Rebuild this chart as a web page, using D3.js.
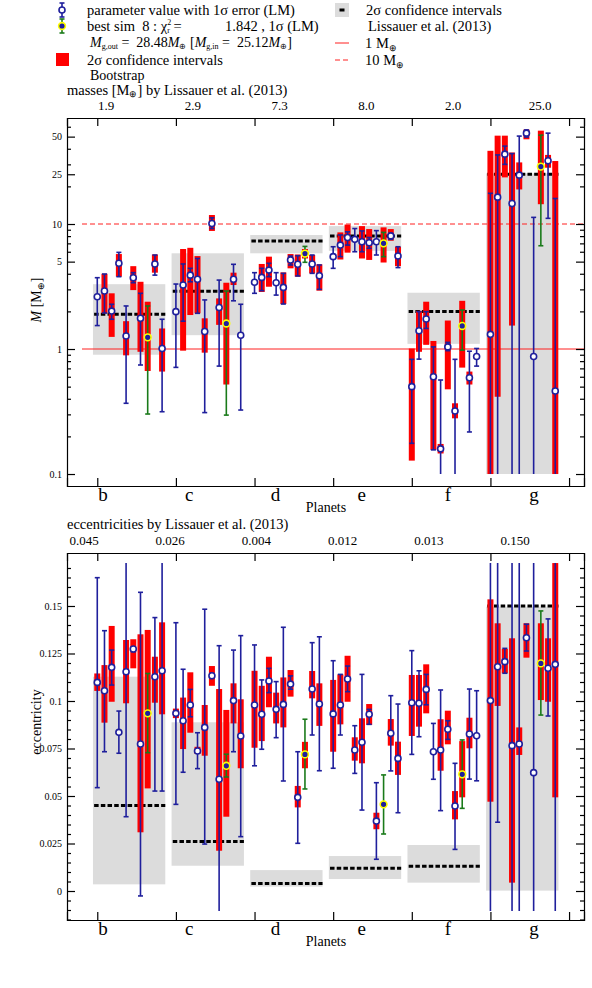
<!DOCTYPE html>
<html><head><meta charset="utf-8">
<script src="https://cdn.jsdelivr.net/npm/d3@7"></script>
<style>
body{margin:0;background:#fff}
text{font-family:"Liberation Serif",serif;fill:#000;white-space:pre}
</style></head><body>
<svg width="592" height="988"></svg>
<script>
// ---------------- data ----------------
var planets = ["b","c","d","e","f","g"];
var bestRun = 7;   // column of the best simulation

// Lissauer et al. (2013)
var lissMass = [1.9, 2.9, 7.3, 8.0, 2.0, 25.0];
var lissMassBox = [[0.9,3.3],[1.29,5.83],[5.83,8.17],[6.1,9.62],[1.1,2.82],[0.1,25.4]];
var lissEcc = [0.045, 0.026, 0.004, 0.012, 0.013, 0.150];
var lissEccBox = [[0.0035,0.1128],[0.0133,0.0888],[0.0023,0.011],[0.0063,0.0184],[0.0044,0.0242],[0.0002,0.1496]];
var massLabels = ["1.9","2.9","7.3","8.0","2.0","25.0"];
var eccLabels = ["0.045","0.026","0.004","0.012","0.013","0.150"];

// LM fits: [value, low, high] per run (10 runs per planet)
var massLM = [
  [[2.62,1.54,3.72],[2.91,1.94,3.98],[2.01,1.73,2.28],[4.85,3.79,5.93],[1.27,0.368,2.21],[3.72,3.39,4.08],[1.76,0.745,2.79],[1.24,0.302,2.21],[4.79,3.9,5.65],[1.01,0.315,1.73]],
  [[1.99,0.713,3.31],[3.25,1.67,4.79],[3.9,3.45,4.42],[3.61,1.93,5.3],[1.38,0.31,2.47],[10.1,9.2,11.2],[2.15,0.73,3.56],[1.6,0.296,2.91],[3.61,2.43,4.76],[1.29,0.325,2.28]],
  [[3.42,2.79,4.08],[3.74,2.93,4.42],[4.28,3.79,4.85],[3.39,2.7,4.08],[3.11,2.29,4.03],[5.16,4.7,5.54],[4.76,3.84,5.58],[5.8,4.94,6.62],[4.79,4.03,5.65],[3.86,3.0,4.7]],
  [[5.48,4.42,6.58],[6.78,5.48,8.17],[7.8,6.78,8.66],[7.54,6.0,9.2],[7.21,6.0,8.8],[7.09,6.39,7.8],[7.21,5.65,8.85],[7.0,5.48,8.57],[8.03,7.54,8.4],[5.54,4.48,6.58]],
  [[0.5,0.176,0.827],[1.4,0.83,1.99],[1.74,1.46,1.99],[0.6,0.156,1.04],[0.159,0.098,0.565],[1.04,0.97,1.13],[0.319,0.098,0.827],[1.53,0.98,2.05],[0.589,0.217,0.96],[0.87,0.73,1.01]],
  [[1.31,0.05,17.6],[16.4,0.05,35.7],[36.2,30,42],[14.6,0.05,36.6],[24.6,0.05,50.5],[53.3,49.6,56.5],[0.87,0.05,11.3],[28.8,6.7,51.4],[32.1,11.1,53.3],[0.461,0.05,16]]
];
// bootstrap 2 sigma: [low, high]
var massBoot = [
  [null,[1.93,4.0],[1.25,2.79],[3.79,5.75],[0.89,1.67],[2.96,4.6],[0.95,3.45],[0.667,2.39],[4.08,5.7],[0.66,1.46]],
  [null,[0.97,6.31],[1.87,6.45],[1.93,5.54],[0.935,1.76],[8.8,11.8],[1.56,2.54],[0.52,3.39],[3.25,4.08],null],
  [null,[2.86,4.79],[3.15,5.48],null,[2.29,4.1],[4.42,5.75],[3.79,5.7],[5.3,6.31],[4.03,5.65],[2.93,4.76]],
  [null,[5.2,8.57],[5.9,9.9],null,[5.3,9.62],[5.16,9.11],null,[4.92,9.4],[7.35,9.11],[4.6,6.58]],
  [[0.128,1.01],[0.95,2.02],[1.08,2.39],[0.156,1.16],[0.146,0.174],[0.476,1.69],[0.279,0.368],[0.71,2.43],[0.52,0.66],null],
  [[0.05,38.5],[0.415,50.9],[23.6,50.9],[1.54,37.3],[18.9,31.1],[47.6,57],null,[14.4,55.8],[28.2,35.7],[0.05,31.9]]
];
var eccLM = [
  [[0.1098,0.0544,0.1649],[0.1054,0.0733,0.137],[0.1177,0.1084,0.1268],[0.0835,0.0725,0.0947],[0.1154,0.0391,0.2],[0.1274,0.1259,0.1285],[0.0774,-0.0026,0.1572],[0.0935,0.0728,0.1145],[0.1128,0.0526,0.1439],[0.1159,0.0526,0.2]],
  [[0.0935,0.0456,0.1412],[0.0896,0.0625,0.1167],[0.0979,0.0917,0.1061],[0.0737,0.0644,0.0833],[0.0861,0.0247,0.1483],[0.1133,0.1119,0.1145],[0.0588,-0.03,0.1291],[0.0659,0.06,0.072],[0.1002,0.0733,0.1268],[0.0816,0.0286,0.1344]],
  [[0.0979,0.0659,0.1295],[0.093,0.0746,0.1111],[0.1105,0.1044,0.1172],[0.0956,0.0807,0.1102],[0.0982,0.0579,0.1388],[0.1089,0.1062,0.1132],[0.0493,0.0251,0.0733],[0.0719,0.0537,0.0904],[0.1063,0.0821,0.1307],[0.0984,0.0633,0.1338]],
  [[0.0932,0.0646,0.1212],[0.0979,0.0821,0.114],[0.1116,0.1049,0.1184],[0.0742,0.0619,0.087],[0.0783,0.0426,0.114],[0.093,0.0877,0.0956],[0.0368,0.0167,0.057],[0.0456,0.03,0.0611],[0.083,0.0632,0.1028],[0.0698,0.0412,0.0984]],
  [[0.0991,0.0719,0.1265],[0.0988,0.0812,0.1159],[0.1061,0.098,0.114],[0.0733,0.0588,0.0882],[0.0742,0.0423,0.1058],[0.0851,0.0798,0.0896],[0.0447,0.0219,0.0672],[0.0614,0.0435,0.0795],[0.0826,0.0589,0.1063],[0.0817,0.058,0.1054]],
  [[0.1002,-0.03,0.2],[0.118,0.0362,0.2],[0.1207,0.1146,0.1277],[0.0765,-0.03,0.2],[0.0774,-0.03,0.2],[0.1333,0.1263,0.1404],[0.0623,-0.03,0.2],[0.1198,0.0926,0.1474],[0.1172,0.0921,0.1432],[0.1193,-0.03,0.2]]
];
var eccBoot = [
  [[0.1053,0.1145],[0.0886,0.1189],[0.0996,0.1395],null,[0.0988,0.1321],[0.1172,0.1325],[0.0309,0.1351],[0.054,0.1374],[0.0991,0.1233],[0.093,0.1414]],
  [[0.091,0.096],[0.0747,0.1018],[0.0833,0.1151],[0.0721,0.0759],[0.0712,0.0979],[0.108,0.1184],[0.0212,0.1063],[0.0391,0.0953],[0.0882,0.1093],[0.0646,0.1009]],
  [[0.0754,0.1159],[0.0789,0.108],[0.0967,0.1233],[0.0882,0.1044],[0.0861,0.1124],[0.1023,0.1163],[0.044,0.0553],[0.0646,0.0785],[0.1014,0.1158],[0.0869,0.1093]],
  [[0.0733,0.1111],[0.0877,0.114],[0.0996,0.1238],[0.0686,0.0809],[0.0672,0.0909],[0.0874,0.0984],[0.0325,0.0412],null,[0.0765,0.0905],[0.0611,0.0786]],
  [[0.0816,0.1137],[0.0865,0.1137],[0.0935,0.1193],null,[0.0633,0.0904],[0.0772,0.0949],[0.0377,0.0526],[0.0493,0.0789],[0.0751,0.0912],null],
  [[0.047,0.1535],[0.0974,0.1409],[0.1146,0.1274],[0.0044,0.133],[0.0716,0.0861],[0.1228,0.1409],null,[0.1005,0.1409],[0.0996,0.133],[0.0493,0.2]]
];

// ---------------- setup ----------------
var svg = d3.select("svg");
var navy = "#1f1f9c", green = "#1a7a1a";
var x = d3.scaleLinear().domain([-0.385, 6.19]).range([67, 584]);
var colStep = 0.0916;
var labX = d3.scaleLinear().domain([0,5]).range([103, 534]);

function panel(o){
  var y = o.y, g = svg.append("g");
  var clip = v => Math.max(o.lo, Math.min(o.hi, v));
  // gray boxes + dashed Lissauer values
  planets.forEach((p,i)=>{
    g.append("rect").attr("x", x(i-0.055)).attr("width", x(i+0.865)-x(i-0.055))
      .attr("y", y(o.box[i][1])).attr("height", y(o.box[i][0]) - y(o.box[i][1]))
      .attr("fill","#dcdcdc");
  });
  if(o.refs) o.refs(g);
  planets.forEach((p,i)=>{
    g.append("line").attr("x1", x(i-0.04)).attr("x2", x(i+0.865))
      .attr("y1", y(o.liss[i])).attr("y2", y(o.liss[i]))
      .attr("stroke","#000").attr("stroke-width",3).attr("stroke-dasharray","4.5,2.2");
  });
  // bootstrap bars
  planets.forEach((p,i)=>{
    o.boot[i].forEach((d,j)=>{
      if(!d) return;
      var cx = x(i + j*colStep);
      g.append("rect").attr("x", cx-3).attr("width",6)
        .attr("y", y(clip(d[1]))).attr("height", y(clip(d[0])) - y(clip(d[1])))
        .attr("fill","#ff0000");
    });
  });
  // LM error bars and points
  planets.forEach((p,i)=>{
    o.lm[i].forEach((d,j)=>{
      var cx = x(i + j*colStep), best = j === bestRun;
      var col = best ? green : navy;
      var y0 = y(clip(d[1])), y1 = y(clip(d[2]));
      g.append("line").attr("x1",cx).attr("x2",cx).attr("y1",y0).attr("y2",y1)
        .attr("stroke",col).attr("stroke-width",1.6);
      [[d[1],y0],[d[2],y1]].forEach(e=>{
        if(e[0] < o.lo || e[0] > o.hi) return;
        g.append("line").attr("x1",cx-2.5).attr("x2",cx+2.5).attr("y1",e[1]).attr("y2",e[1])
          .attr("stroke",col).attr("stroke-width",1.6);
      });
      g.append("circle").attr("cx",cx).attr("cy",y(d[0]))
        .attr("r", best ? 3.4 : 3)
        .attr("fill", best ? navy : "#fff")
        .attr("stroke", best ? "#ffff00" : navy).attr("stroke-width",1.6);
    });
  });
  // frame
  var t = o.top, b = o.bottom;
  var ax = svg.append("g").attr("font-size",11);
  ax.append("g").attr("transform","translate(0,"+t+")")
    .call(d3.axisBottom(x).tickValues([0,1,2,3,4,5,6]).tickSize(8).tickFormat(""));
  ax.append("g").attr("transform","translate(0,"+b+")")
    .call(d3.axisTop(x).tickValues([0,1,2,3,4,5,6]).tickSize(8).tickFormat(""));
  ax.append("g").attr("transform","translate(67,0)")
    .call(d3.axisLeft(y).tickValues(o.major).tickSize(-8).tickPadding(5).tickFormat(o.fmt));
  ax.append("g").attr("transform","translate(67,0)")
    .call(d3.axisLeft(y).tickValues(o.minor).tickSize(-4).tickFormat(""))
    .select(".domain").remove();
  ax.append("g").attr("transform","translate(584,0)")
    .call(d3.axisRight(y).tickValues(o.major).tickSize(-8).tickFormat(""));
  ax.append("g").attr("transform","translate(584,0)")
    .call(d3.axisRight(y).tickValues(o.minor).tickSize(-4).tickFormat(""))
    .select(".domain").remove();
  ax.selectAll("text").attr("font-family","Liberation Serif").attr("fill","#000");
  ax.selectAll("line,path").attr("stroke","#000").attr("stroke-width",1.2);
  // planet names
  planets.forEach((p,i)=>{
    svg.append("text").attr("x",labX(i)).attr("y",b+15).attr("text-anchor","middle")
      .attr("font-size",19).text(p);
  });
  svg.append("text").attr("x",326).attr("y",b+26).attr("text-anchor","middle")
    .attr("font-size",14).text("Planets");
  // values on top
  var topX = d3.scaleLinear().domain([0,5]).range(o.topRange);
  o.topLabels.forEach((s,i)=>{
    svg.append("text").attr("x",topX(i)).attr("y",t-8).attr("text-anchor","middle")
      .attr("font-size",13).text(s);
  });
}

// ---------------- top panel: masses ----------------
var yM = d3.scaleLog().domain([0.0802, 70.47]).range([486, 118]);
panel({
  y: yM, top:118, bottom:486, lo:0.1, hi:70,
  lm: massLM, boot: massBoot, liss: lissMass, box: lissMassBox,
  major:[0.1,1,5,10,25,50],
  minor:[0.2,0.3,0.4,0.5,0.6,0.7,0.8,0.9,2,3,4,6,7,8,9,20,30,40,60],
  fmt: d => String(d),
  topLabels: massLabels, topRange:[106,540],
  refs: function(g){
    g.append("line").attr("x1",82).attr("x2",584).attr("y1",yM(1)).attr("y2",yM(1))
      .attr("stroke","#ff2020").attr("stroke-width",1);
    g.append("line").attr("x1",82).attr("x2",584).attr("y1",yM(10)).attr("y2",yM(10))
      .attr("stroke","#ff2020").attr("stroke-width",1).attr("stroke-dasharray","5,3");
  }
});

// ---------------- bottom panel: eccentricities ----------------
var yE = d3.scaleLinear().domain([-0.01526, 0.17789]).range([920, 553]);
panel({
  y: yE, top:553, bottom:920, lo:-0.0105, hi:0.1726,
  lm: eccLM, boot: eccBoot, liss: lissEcc, box: lissEccBox,
  major:[0,0.025,0.05,0.075,0.1,0.125,0.15],
  minor:d3.range(-0.015,0.1751,0.005).filter(v=>Math.abs(Math.round(v*1000)%25)!==0),
  fmt: d => d===0 ? "0" : String(+d.toFixed(3)),
  topLabels: eccLabels, topRange:[84,515]
});

// ---------------- axis titles ----------------
var yt = svg.append("text").attr("transform","translate(41,300) rotate(-90)")
  .attr("text-anchor","middle").attr("font-size",14);
yt.append("tspan").attr("font-style","italic").text("M");
yt.append("tspan").text(" [M");
yt.append("tspan").attr("font-size",9).attr("dy",3).text("⊕");
yt.append("tspan").attr("dy",-3).text("]");
svg.append("text").attr("transform","translate(41,722) rotate(-90)")
  .attr("text-anchor","middle").attr("font-size",14).text("eccentricity");

var t1 = svg.append("text").attr("x",67).attr("y",95).attr("font-size",14.5);
t1.append("tspan").text("masses [M");
t1.append("tspan").attr("font-size",9).attr("dy",2).text("⊕");
t1.append("tspan").attr("dy",-2).text("] by Lissauer et al. (2013)");
svg.append("text").attr("x",67).attr("y",529).attr("font-size",14.5)
  .text("eccentricities by Lissauer et al. (2013)");

// ---------------- legend ----------------
var lg = svg.append("g").attr("font-size",14.5);
function legBar(cx, cy, col, best){
  lg.append("line").attr("x1",cx).attr("x2",cx).attr("y1",cy-7).attr("y2",cy+7).attr("stroke",col).attr("stroke-width",1.6);
  [cy-7,cy+7].forEach(v=>lg.append("line").attr("x1",cx-2.5).attr("x2",cx+2.5).attr("y1",v).attr("y2",v).attr("stroke",col).attr("stroke-width",1.6));
  lg.append("circle").attr("cx",cx).attr("cy",cy).attr("r",best?3.4:3)
    .attr("fill",best?navy:"#fff").attr("stroke",best?"#ffff00":navy).attr("stroke-width",1.6);
}
legBar(62, 10, navy, false);
lg.append("text").attr("x",87).attr("y",15).text("parameter value with 1σ error (LM)");
legBar(62, 26, green, true);
var l2 = lg.append("text").attr("x",87).attr("y",31);
l2.append("tspan").text("best sim  8 : χ");
l2.append("tspan").attr("font-size",8).attr("dy",-6).text("2");
l2.append("tspan").attr("font-size",8).attr("dx",-4).attr("dy",8).text("r");
l2.append("tspan").attr("dy",-2).text(" =");
lg.append("text").attr("x",225).attr("y",31).text("1.842 , 1σ (LM)");

// M with subscript, followed by normal text back on the baseline
var l3 = lg.append("text").attr("x",90).attr("y",47).attr("font-size",14);
function mSub(el, sub, after){
  el.append("tspan").attr("font-style","italic").text("M");
  el.append("tspan").attr("font-size",8).attr("dy",2).text(sub);
  el.append("tspan").attr("dy",-2).text(after);
}
mSub(l3,"g,out"," =  28.48");
mSub(l3,"⊕"," [");
mSub(l3,"g,in"," =  25.12");
mSub(l3,"⊕","]");
lg.append("rect").attr("x",56).attr("y",53).attr("width",13).attr("height",13).attr("fill","#ff0000");
lg.append("text").attr("x",87).attr("y",65).text("2σ confidence intervals");
lg.append("text").attr("x",90).attr("y",80).attr("font-size",14).text("Bootstrap");

lg.append("rect").attr("x",335).attr("y",3).attr("width",14).attr("height",14).attr("fill","#dcdcdc");
lg.append("rect").attr("x",339.5).attr("y",8.5).attr("width",5).attr("height",3).attr("fill","#000");
lg.append("text").attr("x",366).attr("y",15).text("2σ confidence intervals");
lg.append("text").attr("x",368).attr("y",31).text("Lissauer et al. (2013)");
lg.append("line").attr("x1",335).attr("x2",349).attr("y1",43).attr("y2",43).attr("stroke","#ff2020");
lg.append("line").attr("x1",335).attr("x2",349).attr("y1",60).attr("y2",60).attr("stroke","#ff2020").attr("stroke-dasharray","5,3");
var l4 = lg.append("text").attr("x",365).attr("y",48);
l4.append("tspan").text("1 M"); l4.append("tspan").attr("font-size",9).attr("dy",3).text("⊕");
var l5 = lg.append("text").attr("x",365).attr("y",65);
l5.append("tspan").text("10 M"); l5.append("tspan").attr("font-size",9).attr("dy",3).text("⊕");
</script>
</body></html>
